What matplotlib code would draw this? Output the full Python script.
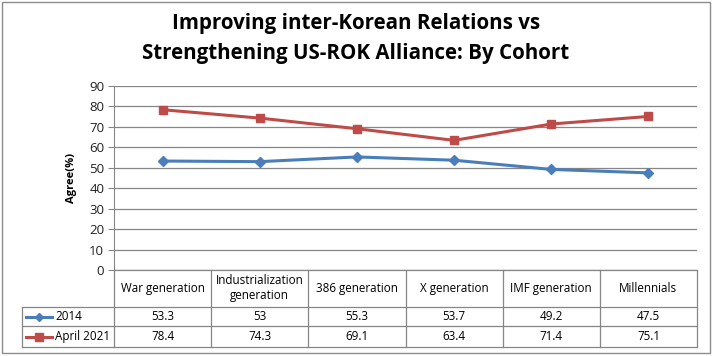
import matplotlib.pyplot as plt
from matplotlib.lines import Line2D
from matplotlib.patches import Rectangle

cohorts = ["War generation", "Industrialization\ngeneration", "386 generation",
           "X generation", "IMF generation", "Millennials"]
series_names = ["2014", "April 2021"]
vals_2014 = [53.3, 53, 55.3, 53.7, 49.2, 47.5]
vals_2021 = [78.4, 74.3, 69.1, 63.4, 71.4, 75.1]
labels_2014 = ["53.3", "53", "55.3", "53.7", "49.2", "47.5"]
labels_2021 = ["78.4", "74.3", "69.1", "63.4", "71.4", "75.1"]

blue = "#4A7EBB"
red = "#BE4B48"
grid = "#868686"
W, H = 712, 356

plt.rcParams['font.family'] = ['Open Sans', 'DejaVu Sans']
fig = plt.figure(figsize=(W / 100, H / 100), dpi=100)

def fx(px):
    return px / W

def fy(py):
    return 1 - py / H

# outer chart frame
fig.patches.append(Rectangle((fx(1.5), fy(353)), fx(708), 351 / H, transform=fig.transFigure,
                             fill=False, edgecolor="#8c8c8c", lw=1))

left, right, top, bottom = 114, 697, 86, 270
ax = fig.add_axes([fx(left), fy(bottom), fx(right - left), (bottom - top) / H])
x = list(range(len(cohorts)))
ax.plot(x, vals_2014, color=blue, lw=2.2, marker="D", ms=5, zorder=3)
ax.plot(x, vals_2021, color=red, lw=2.2, marker="s", ms=5.5, zorder=3)
ax.set_xlim(-0.5, len(cohorts) - 0.5)
ax.set_ylim(0, 90)
ax.set_yticks(range(0, 91, 10))
ax.set_xticks([])
ax.grid(axis="y", color=grid, lw=0.9)
ax.set_axisbelow(True)
for s in ["top", "right", "bottom"]:
    ax.spines[s].set_visible(False)
ax.spines["left"].set_color(grid)
ax.tick_params(axis="y", length=4, color=grid, labelsize=9.5, pad=3, labelcolor="#222222")
ax.set_ylabel("Agree(%)", fontsize=8, fontweight="bold", labelpad=9)

fig.text(0.5, fy(23), "Improving inter-Korean Relations vs", ha="center", va="center",
         fontsize=14.8, fontweight="bold")
fig.text(0.5, fy(54), "Strengthening US-ROK Alliance: By Cohort", ha="center", va="center",
         fontsize=14.8, fontweight="bold")

# data table
col_w = (right - left) / len(cohorts)
rows = [270, 307, 326, 347]
lc = dict(color=grid, lw=0.9, transform=fig.transFigure)
for r in rows[1:]:
    fig.lines.append(Line2D([fx(22), fx(right)], [fy(r)] * 2, **lc))
fig.lines.append(Line2D([fx(left), fx(right)], [fy(rows[0])] * 2, **lc))
fig.lines.append(Line2D([fx(22), fx(22)], [fy(rows[1]), fy(rows[3])], **lc))
for i in range(len(cohorts) + 1):
    xx = left + i * col_w
    fig.lines.append(Line2D([fx(xx)] * 2, [fy(rows[0]), fy(rows[3])], **lc))

for i, c in enumerate(cohorts):
    cx = fx(left + (i + 0.5) * col_w)
    fig.text(cx, fy((rows[0] + rows[1]) / 2), c, ha="center", va="center", fontsize=8.4,
             linespacing=1.2)
    fig.text(cx, fy((rows[1] + rows[2]) / 2), labels_2014[i], ha="center", va="center", fontsize=8.4)
    fig.text(cx, fy((rows[2] + rows[3]) / 2), labels_2021[i], ha="center", va="center", fontsize=8.4)

for r, (name, col, mk, ms) in enumerate(zip(series_names, [blue, red], ["D", "s"], [4.5, 5.5])):
    yy = fy((rows[r + 1] + rows[r + 2]) / 2)
    fig.lines.append(Line2D([fx(26), fx(39), fx(52)], [yy, yy, yy], color=col, lw=2.2,
                            marker=mk, ms=ms, markevery=[1], transform=fig.transFigure))
    fig.text(fx(55), yy, name, ha="left", va="center", fontsize=8.4)

fig.savefig("out.png", dpi=100)
